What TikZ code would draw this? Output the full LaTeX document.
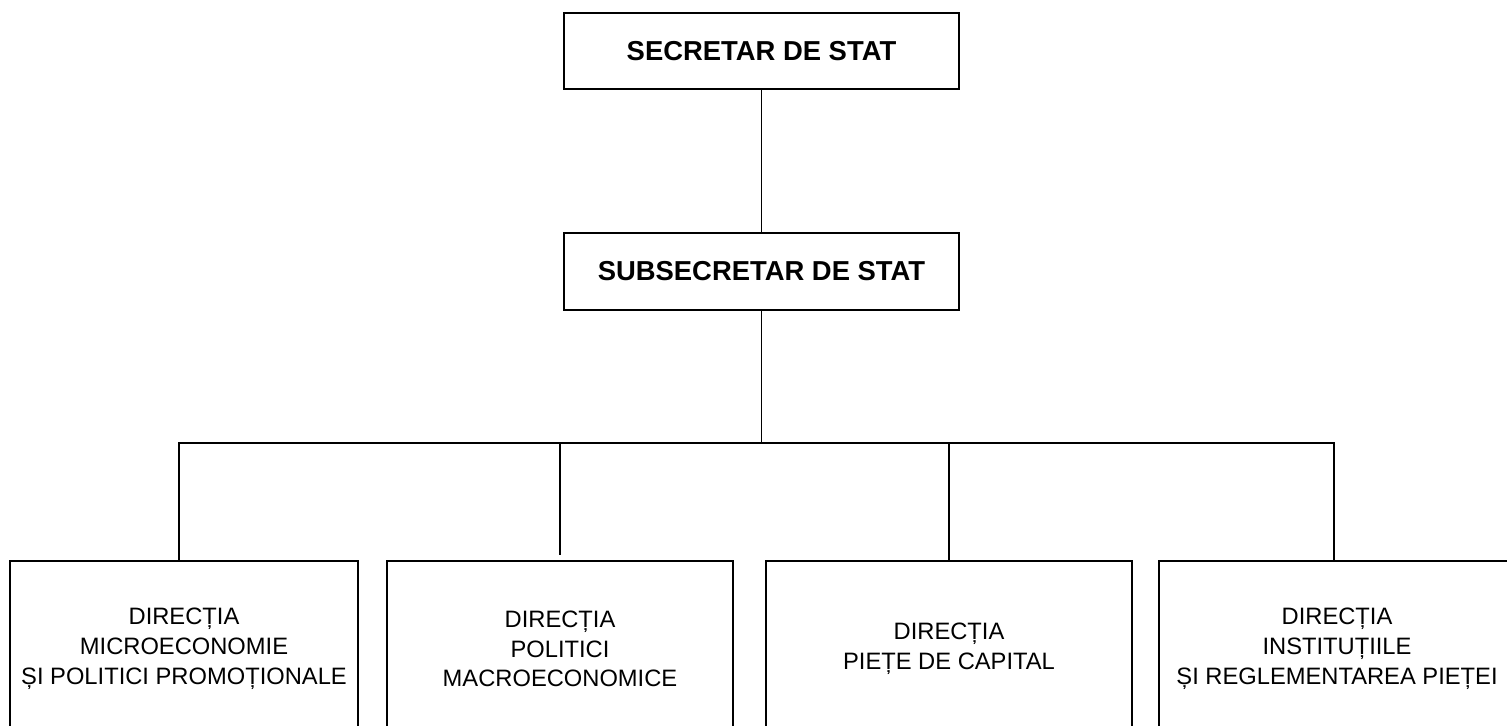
\documentclass[tikz,border=0pt]{standalone}
\usepackage{fontspec}
\setmainfont{Liberation Sans}

\begin{document}
\begin{tikzpicture}[x=0.02cm,y=-0.02cm]
    \tikzset{
        chief/.style={draw,line width=1pt,inner sep=0pt,minimum width=7.9cm,minimum height=1.53cm,font=\fontsize{15.6}{18}\selectfont\bfseries},
        dept/.style={draw,line width=1pt,inner sep=0pt,anchor=north,minimum height=3.52cm,align=center,font=\fontsize{13.5}{17}\selectfont},
        link/.style={line width=1pt}
    }
    % Frame of the picture
    \clip (0,0) rectangle (1507,725);

    % Draw the boxes
    \node[chief] (secretar) at (761.5,51) {SECRETAR DE STAT};
    \node[chief] (subsecretar) at (761.5,271.5) {SUBSECRETAR DE STAT};
    \node[dept,minimum width=6.96cm] (micro) at (184,560) {DIRECȚIA\\MICROECONOMIE\\ȘI POLITICI PROMOȚIONALE};
    \node[dept,minimum width=6.92cm] (macro) at (560,560) {DIRECȚIA\\POLITICI\\MACROECONOMICE};
    \node[dept,minimum width=7.32cm] (capital) at (949,560) {DIRECȚIA\\PIEȚE DE CAPITAL};
    \node[dept,minimum width=7.12cm] (institutii) at (1337,560) {DIRECȚIA\\INSTITUȚIILE\\ȘI REGLEMENTAREA PIEȚEI};

    % Add the lines
    \coordinate (bar) at (761.5,443);
    \coordinate (microtop) at ([xshift=-0.1cm]micro.north);
    \coordinate (institutiitop) at ([xshift=-0.06cm]institutii.north);
    \draw[link] (secretar) -- (subsecretar);
    \draw[link] (subsecretar) -- (bar);
    \draw[link] (microtop) -- (microtop |- bar) -- (institutiitop |- bar) -- (institutiitop);
    \draw[link,shorten >=2.8pt] (macro.north |- bar) -- (macro.north);
    \draw[link] (capital.north |- bar) -- (capital.north);
\end{tikzpicture}
\end{document}
